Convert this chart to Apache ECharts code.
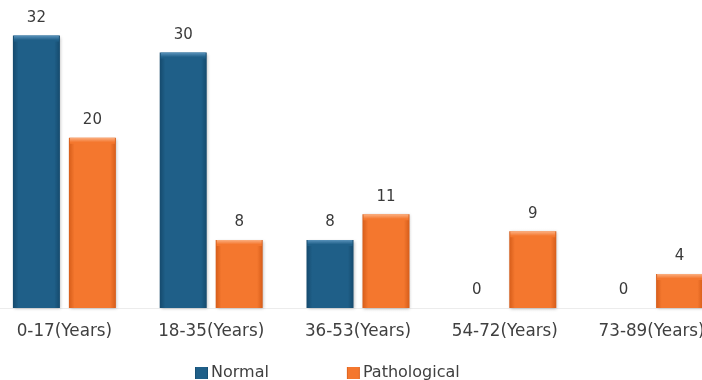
<!DOCTYPE html>
<html>
<head>
<meta charset="utf-8">
<script src="https://cdn.jsdelivr.net/npm/echarts@6/dist/echarts.min.js"></script>
<style>
  html, body { margin: 0; padding: 0; background: #ffffff; overflow: hidden; width: 702px; height: 380px; }
  #chart { width: 734px; height: 380px; margin-left: -9px; }
</style>
</head>
<body>
<div id="chart"></div>
<script>
// Age groups and patient counts per group
const categories = ['0-17(Years)', '18-35(Years)', '36-53(Years)', '54-72(Years)', '73-89(Years)'];
const normalValues = [32, 30, 8, 0, 0];
const pathologicalValues = [20, 8, 11, 9, 4];
const seriesNames = ['Normal', 'Pathological'];

const BAR_WIDTH = 47;
const BAR_GAP_PX = 9;

// Horizontal shading so each bar looks slightly rounded
function barGradient(edge, mid) {
  return new echarts.graphic.LinearGradient(0, 0, 1, 0, [
    { offset: 0, color: edge },
    { offset: 0.12, color: mid },
    { offset: 0.88, color: mid },
    { offset: 1, color: edge }
  ]);
}

// Bevelled cap on top of each non-empty bar, placed with the axis scales
function capSeries(vals, side, light, mid) {
  return {
    type: 'custom',
    silent: true,
    z: 3,
    data: vals.map((v, i) => [i, v]),
    renderItem: function (params, api) {
      const v = api.value(1);
      if (!(v > 0)) return null;
      const top = api.coord([api.value(0), v]);
      const cx = top[0] + side * (BAR_WIDTH + BAR_GAP_PX) / 2;
      const w = BAR_WIDTH - 2;
      return {
        type: 'rect',
        shape: { x: cx - w / 2, y: top[1], width: w, height: 6 },
        style: {
          fill: new echarts.graphic.LinearGradient(0, 0, 0, 1, [
            { offset: 0, color: light },
            { offset: 0.75, color: mid },
            { offset: 1, color: mid }
          ])
        }
      };
    }
  };
}

const labelStyle = {
  show: true,
  position: 'top',
  distance: 10,
  color: '#3a3a3a',
  fontFamily: 'DejaVu Sans',
  fontSize: 15
};

const chart = echarts.init(document.getElementById('chart'), null, { renderer: 'canvas' });
chart.setOption({
  animation: false,
  backgroundColor: '#ffffff',
  grid: { left: 0, right: 0, top: 10, bottom: 72, containLabel: false },
  legend: {
    left: 199,
    top: 360,
    itemWidth: 13,
    itemHeight: 12,
    itemGap: 78,
    icon: 'rect',
    textStyle: { color: '#404040', fontFamily: 'DejaVu Sans', fontSize: 16, padding: [0, 0, 0, -2] },
    data: seriesNames
  },
  xAxis: {
    type: 'category',
    data: categories,
    axisLine: { show: true, lineStyle: { color: '#ececec', width: 1 } },
    axisTick: { show: false },
    axisLabel: { color: '#404040', fontFamily: 'DejaVu Sans', fontSize: 16.8, margin: 15 }
  },
  yAxis: {
    type: 'value',
    min: 0,
    max: 35,
    show: false,
    splitLine: { show: false }
  },
  series: [
    {
      name: seriesNames[0],
      type: 'bar',
      data: normalValues,
      barWidth: BAR_WIDTH,
      barGap: (BAR_GAP_PX / BAR_WIDTH * 100).toFixed(1) + '%',
      itemStyle: {
        color: barGradient('#154a6d', '#1f5f88'),
        shadowColor: 'rgba(0,0,0,0.25)',
        shadowBlur: 3,
        shadowOffsetX: 1,
        shadowOffsetY: 1
      },
      label: labelStyle
    },
    {
      name: seriesNames[1],
      type: 'bar',
      data: pathologicalValues,
      barWidth: BAR_WIDTH,
      itemStyle: {
        color: barGradient('#d65d1a', '#f4772e'),
        shadowColor: 'rgba(0,0,0,0.25)',
        shadowBlur: 3,
        shadowOffsetX: 1,
        shadowOffsetY: 1
      },
      label: labelStyle
    },
    capSeries(normalValues, -1, '#5a93bb', '#1f5f88'),
    capSeries(pathologicalValues, 1, '#fbb082', '#f4772e')
  ]
});
</script>
</body>
</html>
